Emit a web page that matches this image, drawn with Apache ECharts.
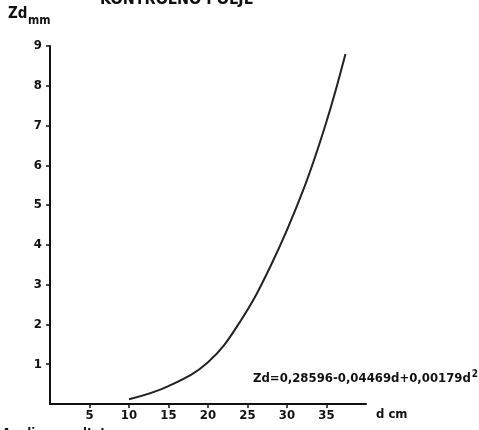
<!DOCTYPE html>
<html>
<head>
<meta charset="utf-8">
<script src="https://cdn.jsdelivr.net/npm/echarts@6/dist/echarts.min.js"></script>
<style>
html,body{margin:0;padding:0;background:#fff;}
#c{width:479px;height:430px;}
</style>
</head>
<body>
<div id="c"></div>
<script>
const dValues = [10, 15, 20, 24, 28, 32, 35, 37.4];
const zdValues = [0.12, 0.45, 1.05, 2.05, 3.5, 5.35, 7.1, 8.8];
const xTicks = [5, 10, 15, 20, 25, 30, 35];
const yTicks = [1, 2, 3, 4, 5, 6, 7, 8, 9];

const FONT = "'Liberation Sans Narrow', 'DejaVu Sans Condensed', 'Liberation Sans', sans-serif";
const chart = echarts.init(document.getElementById('c'));
chart.setOption({
  animation: false,
  backgroundColor: '#fff',
  grid: {left: 50, right: 113, top: 46, bottom: 26},
  xAxis: {
    type: 'value', min: 0, max: 40, interval: 5,
    name: 'd cm', nameLocation: 'end', nameGap: 10,
    nameTextStyle: {color: '#111', fontSize: 13, fontWeight: 'bold', fontFamily: FONT, verticalAlign: 'top', padding: [4, 0, 0, 0]},
    axisLine: {lineStyle: {color: '#111', width: 2}},
    axisTick: {show: true, length: 4, lineStyle: {color: '#111', width: 1.5}, customValues: xTicks},
    axisLabel: {color: '#111', fontSize: 13, fontWeight: 'bold', fontFamily: FONT, margin: 5, customValues: xTicks},
    splitLine: {show: false}
  },
  yAxis: {
    type: 'value', min: 0, max: 9, interval: 1,
    axisLine: {lineStyle: {color: '#111', width: 2}},
    axisTick: {show: true, length: 4, lineStyle: {color: '#111', width: 1.5}, customValues: yTicks},
    axisLabel: {color: '#111', fontSize: 13, fontWeight: 'bold', fontFamily: FONT, margin: 8, customValues: yTicks},
    splitLine: {show: false}
  },
  graphic: [
    {type: 'text', left: 100, top: -8, style: {text: 'KONTROLNO POLJE', fontSize: 16, fontWeight: 'bold', fontFamily: FONT, fill: '#111'}},
    {type: 'text', left: 8, top: 7, style: {text: 'Zd', fontSize: 15, fontWeight: 'bold', fontFamily: FONT, fill: '#111'}},
    {type: 'text', left: 28, top: 15, style: {text: 'mm', fontSize: 12, fontWeight: 'bold', fontFamily: FONT, fill: '#111'}},
    {type: 'text', left: 253, top: 369, style: {
      text: '{a|Zd=0,28596-0,04469d+0,00179d}{s|2}',
      rich: {
        a: {fontSize: 13, fontWeight: 'bold', fontFamily: FONT, fill: '#111', verticalAlign: 'bottom', lineHeight: 16},
        s: {fontSize: 10, fontWeight: 'bold', fontFamily: FONT, fill: '#111', verticalAlign: 'top', lineHeight: 16, padding: [0, 0, 6, 1]}
      }
    }},
    {type: 'text', left: 2, top: 427, style: {text: 'Analiza rezultata', fontSize: 13, fontWeight: 'bold', fontFamily: FONT, fill: '#111'}}
  ],
  series: [{
    type: 'line', smooth: 0.4, showSymbol: false,
    data: dValues.map((d, i) => [d, zdValues[i]]),
    lineStyle: {color: '#222', width: 2}
  }]
});
</script>
</body>
</html>
